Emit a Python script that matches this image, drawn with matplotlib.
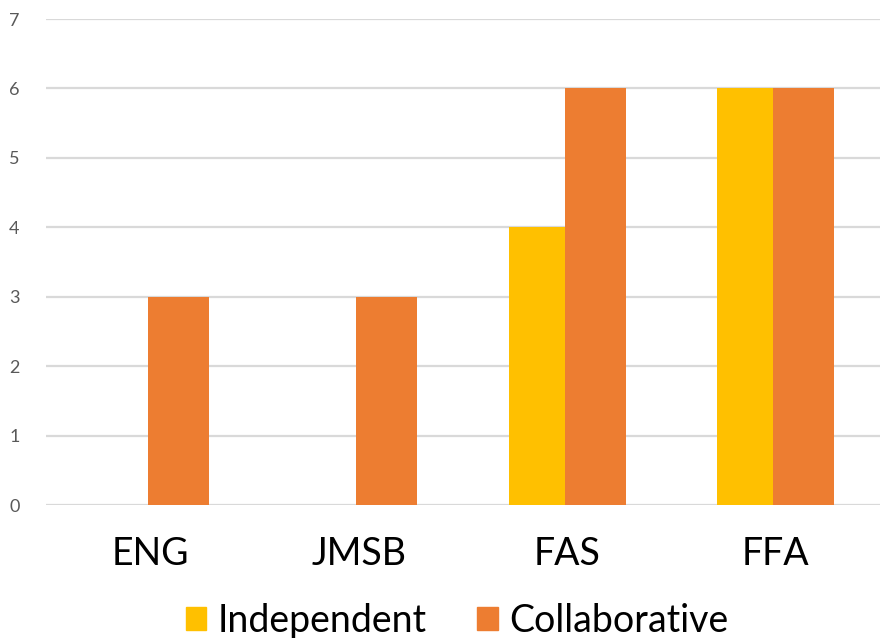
import numpy as np
import matplotlib.pyplot as plt
from matplotlib.patches import Patch

plt.rcParams['font.family'] = ['Lato', 'DejaVu Sans']

categories = ["ENG", "JMSB", "FAS", "FFA"]
independent = [0, 0, 4, 6]
collaborative = [3, 3, 6, 6]
yticks = [0, 1, 2, 3, 4, 5, 6, 7]

c_ind = "#FFC000"
c_col = "#ED7D31"

fig = plt.figure(figsize=(8.87, 6.38), dpi=100)
ax = fig.add_axes([46 / 887, 1 - 505 / 638, (880 - 46) / 887, (505 - 19) / 638])

# Excel-style slight overlap: orange drawn over yellow
x = np.arange(len(categories))
w = 0.293
off = 0.134
ax.bar(x - off, independent, w, color=c_ind, zorder=3)
ax.bar(x + off, collaborative, w, color=c_col, zorder=4)

ax.set_xlim(-0.5, len(categories) - 0.5)
ax.set_ylim(0, 7)
ax.set_yticks(yticks)
ax.set_yticklabels([str(v) for v in yticks], color="#595959", fontsize=13)
ax.set_xticks(x)
ax.set_xticklabels(categories, fontsize=27, color="black")
ax.tick_params(axis="x", length=0, pad=22)
ax.tick_params(axis="y", length=0, pad=19)
ax.grid(axis="y", color="#D9D9D9", linewidth=1.6, zorder=0)
for s in ax.spines.values():
    s.set_visible(False)

handles = [Patch(color=c_ind, label="Independent"), Patch(color=c_col, label="Collaborative")]
fig.legend(handles=handles, loc="center", bbox_to_anchor=(457 / 887, 1 - 621 / 638),
           ncol=2, frameon=False, fontsize=27, handlelength=0.55, handleheight=0.55,
           handletextpad=0.3, columnspacing=1.35, borderaxespad=0)

fig.savefig("out.png", dpi=100)
